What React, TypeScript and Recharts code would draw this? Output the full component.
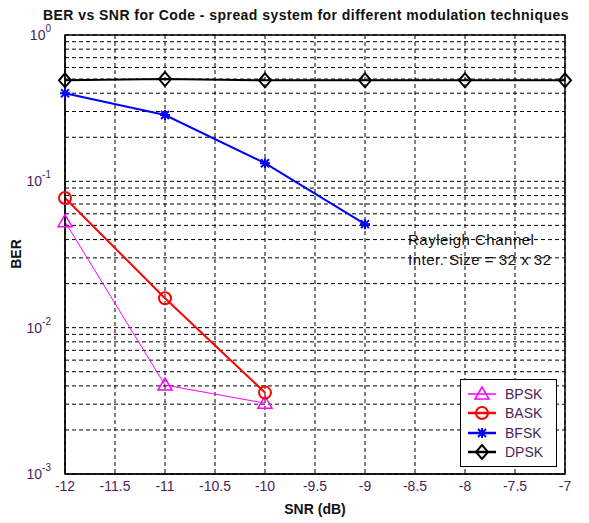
import { LineChart, Line, XAxis, YAxis, CartesianGrid, ReferenceArea } from 'recharts'

const snr = [-12, -11, -10, -9, -8, -7]
const bpsk = [0.053, 0.00405, 0.00305]
const bask = [0.077, 0.0159, 0.0036]
const bfsk = [0.4, 0.284, 0.133, 0.051]
const dpsk = [0.49, 0.5, 0.49, 0.49, 0.49, 0.49]

const xTicks = [-12, -11.5, -11, -10.5, -10, -9.5, -9, -8.5, -8, -7.5, -7]
const yDecades = [0.001, 0.01, 0.1, 1]

// minor log gridlines 2..9 inside each decade
const yTicks: number[] = []
yDecades.forEach((d, i) => {
    yTicks.push(d)
    if (i < yDecades.length - 1) for (let k = 2; k <= 9; k++) yTicks.push(+(d * k).toPrecision(3))
})

const data = snr.map((x, i) => ({
    snr: x,
    bpsk: bpsk[i],
    bask: bask[i],
    bfsk: bfsk[i],
    dpsk: dpsk[i]
}))

const series = [
    { key: 'bpsk', name: 'BPSK', color: '#ff00ff', shape: 'triangle', width: 1 },
    { key: 'bask', name: 'BASK', color: '#ff0000', shape: 'circle', width: 2 },
    { key: 'bfsk', name: 'BFSK', color: '#0000ff', shape: 'star', width: 2 },
    { key: 'dpsk', name: 'DPSK', color: '#000000', shape: 'diamond', width: 2 }
]

const tickColor = '#4a1f5c'
const font = '"Liberation Sans", Arial, sans-serif'

function Marker({ shape, color, cx, cy }: { shape: string; color: string; cx: number; cy: number }) {
    switch (shape) {
        case 'triangle':
            return <polygon points={`${cx},${cy - 7} ${cx - 7},${cy + 5} ${cx + 7},${cy + 5}`} fill="none" stroke={color} strokeWidth={1.5} />
        case 'circle':
            return <circle cx={cx} cy={cy} r={6} fill="none" stroke={color} strokeWidth={2} />
        case 'star':
            return (
                <g stroke={color} strokeWidth={2}>
                    <line x1={cx - 5} y1={cy} x2={cx + 5} y2={cy} />
                    <line x1={cx} y1={cy - 5} x2={cx} y2={cy + 5} />
                    <line x1={cx - 4} y1={cy - 4} x2={cx + 4} y2={cy + 4} />
                    <line x1={cx - 4} y1={cy + 4} x2={cx + 4} y2={cy - 4} />
                </g>
            )
        default:
            return <polygon points={`${cx},${cy - 7} ${cx + 6},${cy} ${cx},${cy + 7} ${cx - 6},${cy}`} fill="none" stroke={color} strokeWidth={2} />
    }
}

const makeDot = (shape: string, color: string) => (props: any) => {
    const { cx, cy, index, value } = props
    if (value == null || cx == null || cy == null) return <g key={index} />
    return (
        <g key={index}>
            <Marker shape={shape} color={color} cx={cx} cy={cy} />
        </g>
    )
}

const YTick = ({ x, y, payload }: any) => {
    const v = payload.value
    const e = Math.round(Math.log10(v))
    if (Math.abs(Math.pow(10, e) - v) > v * 1e-6) return null
    return (
        <text x={x - 6} y={y + 5} textAnchor="end" fill={tickColor} fontSize={14} fontFamily={font}>
            10
            <tspan dy={-8} fontSize={10}>
                {e}
            </tspan>
        </text>
    )
}

export default function App() {
    return (
        <div style={{ position: 'absolute', left: 0, top: 0, width: 589, height: 523, background: '#fff', fontFamily: font }}>
            <div style={{ position: 'absolute', left: 43, top: 7, whiteSpace: 'nowrap', fontSize: 14, letterSpacing: 0.45, fontWeight: 'bold', color: '#111' }}>
                BER vs SNR for Code - spread system for different modulation techniques
            </div>
            <LineChart width={589} height={523} data={data} margin={{ top: 35, right: 24, left: 20, bottom: 19 }}>
                <CartesianGrid stroke="#000" strokeDasharray="4 3" strokeWidth={1} />
                <XAxis
                    dataKey="snr"
                    type="number"
                    domain={[-12, -7]}
                    ticks={xTicks}
                    height={30}
                    tickLine={false}
                    axisLine={{ stroke: '#000' }}
                    tick={{ fill: tickColor, fontSize: 14, fontFamily: font }}
                    tickMargin={1}
                />
                <YAxis
                    scale="log"
                    domain={[0.001, 1]}
                    allowDataOverflow
                    ticks={yTicks}
                    width={45}
                    tickLine={false}
                    axisLine={{ stroke: '#000' }}
                    tick={<YTick />}
                    interval={0}
                />
                <ReferenceArea x1={-12} x2={-7} y1={0.001} y2={1} fill="none" stroke="#000" strokeWidth={1.5} ifOverflow="visible" />
                {series.map(s => (
                    <Line
                        key={s.key}
                        dataKey={s.key}
                        name={s.name}
                        stroke={s.color}
                        strokeWidth={s.width}
                        dot={makeDot(s.shape, s.color)}
                        activeDot={false}
                        isAnimationActive={false}
                    />
                ))}
            </LineChart>
            <div
                style={{
                    position: 'absolute',
                    left: 460,
                    top: 379,
                    width: 95,
                    padding: '4px 0',
                    border: '1px solid #000',
                    background: '#fff',
                    fontSize: 14,
                    color: tickColor
                }}
            >
                {series.map(s => (
                    <div key={s.key} style={{ display: 'flex', alignItems: 'center', height: 19.5 }}>
                        <svg width={38} height={20} style={{ marginLeft: 4 }}>
                            <line x1={3} y1={10} x2={31} y2={10} stroke={s.color} strokeWidth={s.width + 0.5} />
                            <Marker shape={s.shape} color={s.color} cx={17} cy={10} />
                        </svg>
                        <span style={{ marginLeft: 2 }}>{s.name}</span>
                    </div>
                ))}
            </div>
            <div style={{ position: 'absolute', left: 8, top: 254, transform: 'rotate(-90deg)', transformOrigin: 'left top', fontSize: 14, fontWeight: 'bold', color: '#111' }}>
                <span style={{ display: 'inline-block', transform: 'translate(-50%, 0)' }}>BER</span>
            </div>
            <div style={{ position: 'absolute', left: 65, width: 500, top: 501, textAlign: 'center', fontSize: 14, fontWeight: 'bold', color: '#111' }}>
                SNR (dB)
            </div>
            <div style={{ position: 'absolute', left: 408, top: 230, fontSize: 15, letterSpacing: 0.5, lineHeight: '20px', color: '#111' }}>
                <div>Rayleigh Channel</div>
                <div>Inter. Size = 32 x 32</div>
            </div>
        </div>
    )
}
